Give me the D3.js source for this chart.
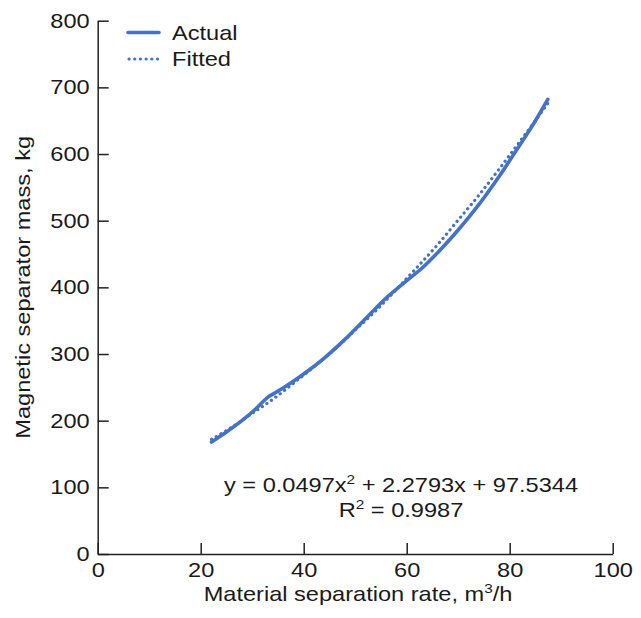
<!DOCTYPE html>
<html><head><meta charset="utf-8">
<script src="https://cdn.jsdelivr.net/npm/d3@7"></script>
<style>body{margin:0;background:#fff}svg{display:block}text{font-family:"Liberation Sans",Arial,sans-serif;fill:#1a1a1a}</style>
</head><body>
<script>
const actualX = [22.1, 25, 28, 31, 33, 34.5, 36, 40, 44, 48, 52, 56, 60, 63, 66, 70, 74, 78, 82, 85, 87.4];
const actualY = [168, 183, 200, 220, 235, 242, 249, 270, 294, 322, 353, 384, 410, 429, 452, 486, 524, 567, 614, 650, 682];
const fittedX = [22.1, 26, 30, 34, 38, 42, 46, 50, 54, 58, 62, 66, 70, 74, 78, 82, 86, 87.4];
const fittedY = [172, 190, 211, 232, 256, 281, 307, 336, 365, 397, 430, 464, 501, 538, 578, 619, 661, 676];
const xTicks = [0, 20, 40, 60, 80, 100];
const yTicks = [0, 100, 200, 300, 400, 500, 600, 700, 800];
const seriesNames = ["Actual", "Fitted"];
const color = "#4472C4";
const SX = 1.18;

const W = 641, H = 618;
const svg = d3.select("body").append("svg").attr("width", W).attr("height", H);
const x = d3.scaleLinear().domain([0, 100]).range([97.7, 612.7]);
const y = d3.scaleLinear().domain([0, 800]).range([554, 20.7]);

function stretch(sel) {
  sel.each(function () {
    const t = d3.select(this);
    const x0 = +t.attr("x") || 0, y0 = +t.attr("y") || 0;
    const prev = t.attr("transform") || "";
    t.attr("x", 0).attr("y", 0).attr("transform", `${prev} translate(${x0},${y0}) scale(${SX},1)`);
  });
}

const xa = svg.append("g").attr("transform", `translate(0,${y(0)})`)
  .call(d3.axisBottom(x).tickValues(xTicks).tickSize(-11).tickPadding(10).tickSizeOuter(0));
const ya = svg.append("g").attr("transform", `translate(${x(0)},0)`)
  .call(d3.axisLeft(y).tickValues(yTicks).tickSize(-11).tickPadding(8).tickSizeOuter(0));
[xa, ya].forEach(a => {
  a.selectAll("path,line").attr("stroke", "#222").attr("stroke-width", 1.5);
  a.selectAll("text").attr("font-size", 20).attr("fill", "#1a1a1a").attr("font-family", '"Liberation Sans",Arial,sans-serif');
});
xa.selectAll("text").attr("y", 9);
stretch(xa.selectAll("text"));
stretch(ya.selectAll("text"));

const line = d3.line().curve(d3.curveMonotoneX);
svg.append("path")
  .attr("d", line(fittedX.map((d, i) => [x(d), y(fittedY[i])])))
  .attr("fill", "none").attr("stroke", color).attr("stroke-width", 3.2)
  .attr("stroke-dasharray", "0.1 5.4").attr("stroke-linecap", "round");
svg.append("path")
  .attr("d", line(actualX.map((d, i) => [x(d), y(actualY[i])])))
  .attr("fill", "none").attr("stroke", color).attr("stroke-width", 3.6)
  .attr("stroke-linecap", "round");

// legend
const lg = svg.append("g");
lg.append("line").attr("x1", 128).attr("x2", 159).attr("y1", 32.5).attr("y2", 32.5)
  .attr("stroke", color).attr("stroke-width", 3.6).attr("stroke-linecap", "round");
lg.append("line").attr("x1", 129).attr("x2", 158).attr("y1", 59).attr("y2", 59)
  .attr("stroke", color).attr("stroke-width", 3.2).attr("stroke-dasharray", "0.1 5.6").attr("stroke-linecap", "round");
lg.append("text").attr("x", 172).attr("y", 39.5).attr("font-size", 20).text(seriesNames[0]);
lg.append("text").attr("x", 172).attr("y", 65.5).attr("font-size", 20).text(seriesNames[1]);
stretch(lg.selectAll("text"));

// equation
const eq = svg.append("text").attr("class", "st").attr("x", 401).attr("y", 491.5).attr("text-anchor", "middle").attr("font-size", 20);
eq.append("tspan").text("y = 0.0497x");
eq.append("tspan").attr("font-size", 13).attr("dy", -8).text("2");
eq.append("tspan").attr("dy", 8).text(" + 2.2793x + 97.5344");
const r2 = svg.append("text").attr("class", "st").attr("x", 401).attr("y", 516.5).attr("text-anchor", "middle").attr("font-size", 20);
r2.append("tspan").text("R");
r2.append("tspan").attr("font-size", 13).attr("dy", -8).text("2");
r2.append("tspan").attr("dy", 8).text(" = 0.9987");

// axis titles
const xt = svg.append("text").attr("class", "st").attr("x", 358).attr("y", 601).attr("text-anchor", "middle").attr("font-size", 20);
xt.append("tspan").text("Material separation rate, m");
xt.append("tspan").attr("font-size", 13).attr("dy", -8).text("3");
xt.append("tspan").attr("dy", 8).text("/h");
stretch(svg.selectAll("text.st"));

const yt = svg.append("g").attr("transform", `translate(29.5,${(y(0)+y(800))/2}) rotate(-90)`);
yt.append("text").attr("text-anchor", "middle").attr("font-size", 20)
  .attr("transform", `scale(${SX},1)`).text("Magnetic separator mass, kg");
</script>
</body></html>
